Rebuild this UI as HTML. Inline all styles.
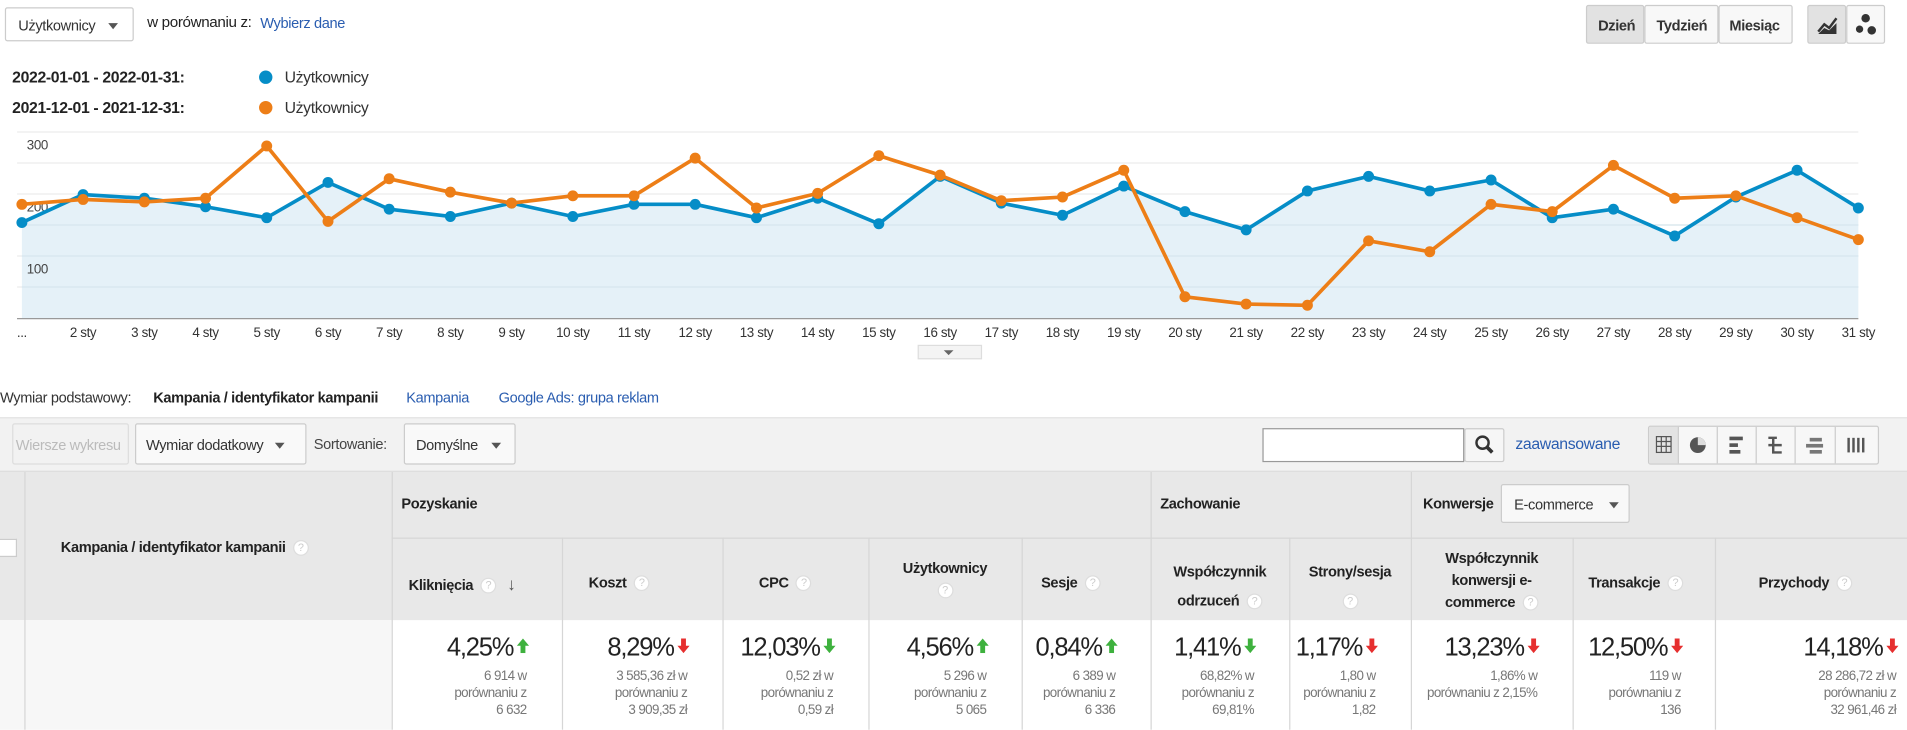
<!DOCTYPE html>
<html><head><meta charset="utf-8"><style>
html,body{margin:0;padding:0;background:#fff;overflow:hidden}
body{width:1907px;height:730px;position:relative}
#w{position:absolute;left:0;top:0;width:1568px;height:600px;transform:scale(1.2162);transform-origin:0 0;font-family:"Liberation Sans",Arial,sans-serif;color:#222;letter-spacing:-0.3px}
.a{position:absolute;white-space:nowrap}
.btn{position:absolute;border:1px solid #ccc;border-radius:2px;background:#f6f6f6;box-sizing:border-box;font-size:12px;color:#333}
.link{color:#2a5db0}
.tri{display:inline-block;width:0;height:0;border-left:4px solid transparent;border-right:4px solid transparent;border-top:5px solid #555;vertical-align:middle}
.q{display:inline-block;width:13px;height:13px;border-radius:50%;background:#fff;border:1px solid #ddd;box-sizing:border-box;font-size:9px;color:#ccc;text-align:center;line-height:11px;font-weight:normal;vertical-align:middle;margin-left:6px}
.hd{position:absolute;font-size:12px;font-weight:bold;color:#222;white-space:nowrap}
.vl{position:absolute;top:388px;width:1px;background:#d6d6d6}
.big{position:absolute;font-size:21px;color:#222;text-align:right;letter-spacing:-1px;white-space:nowrap}
.big svg{vertical-align:middle;margin-left:3px;position:relative;top:-2px}
.sub{position:absolute;font-size:11px;color:#777;text-align:right;line-height:14px;letter-spacing:-0.5px;white-space:nowrap}
</style></head><body><div id="w">

<div class="btn" style="left:4px;top:6px;width:106px;height:28px;background:#fff;padding:7px 0 0 10px">Użytkownicy <span class="tri" style="margin-left:8px"></span></div>
<div class="a" style="left:121px;top:11px;font-size:12.5px">w porównaniu z:</div>
<div class="a link" style="left:214px;top:12px;font-size:12px">Wybierz dane</div>

<div class="btn" style="left:1304px;top:4px;width:48px;height:32px;background:#e2e2e2;font-weight:bold;padding:9px 0 0 9px">Dzień</div>
<div class="btn" style="left:1352px;top:4px;width:61px;height:32px;background:#f8f8f8;font-weight:bold;padding:9px 0 0 9px">Tydzień</div>
<div class="btn" style="left:1413px;top:4px;width:61px;height:32px;background:#f8f8f8;font-weight:bold;padding:9px 0 0 8px">Miesiąc</div>
<div class="btn" style="left:1486px;top:4px;width:32px;height:32px;background:#e2e2e2"><svg width="30" height="30"><path d="M8 21 L13 15 L17 18 L23 10" stroke="#333" stroke-width="2" fill="none"/><path d="M8 23 L13 18 L17 20 L23 14 L23 23 Z" fill="#333"/></svg></div>
<div class="btn" style="left:1518px;top:4px;width:32px;height:32px;background:#f8f8f8"><svg width="30" height="30"><circle cx="15" cy="10" r="3.5" fill="#333"/><circle cx="10" cy="19" r="3" fill="#333"/><circle cx="20" cy="20" r="3.5" fill="#333"/></svg></div>

<div class="a" style="left:10px;top:56px;font-size:13px;font-weight:bold">2022-01-01 - 2022-01-31:</div>
<div class="a" style="left:213px;top:58px;width:11px;height:11px;border-radius:50%;background:#058dc7"></div>
<div class="a" style="left:234px;top:56px;font-size:13px;color:#333">Użytkownicy</div>
<div class="a" style="left:10px;top:81px;font-size:13px;font-weight:bold">2021-12-01 - 2021-12-31:</div>
<div class="a" style="left:213px;top:83px;width:11px;height:11px;border-radius:50%;background:#ed7e17"></div>
<div class="a" style="left:234px;top:81px;font-size:13px;color:#333">Użytkownicy</div>

<svg class="a" style="left:0;top:0" width="1568" height="300">
<g stroke="#ececec" stroke-width="1">
<line x1="14" y1="108.5" x2="1528" y2="108.5"/><line x1="14" y1="134" x2="1528" y2="134"/><line x1="14" y1="159.5" x2="1528" y2="159.5"/><line x1="14" y1="185" x2="1528" y2="185"/><line x1="14" y1="210.5" x2="1528" y2="210.5"/><line x1="14" y1="236" x2="1528" y2="236"/>
</g>
<polygon fill="#e5f1f8" points="18,262 18,183 68.3,160 118.7,163 169,170 219.3,179 269.7,150 320,172 370.3,178 420.6,167 471,178 521.3,168 571.6,168 622,179 672.3,163 722.6,184 773,145 823.3,167 873.6,177 924,153 974.3,174 1024.6,189 1075,157 1125.3,145 1175.6,157 1226,148 1276.3,179 1326.6,172 1377,194 1427.3,162 1477.6,140 1528,171 1528,262"/>
<g stroke="#d8e6ee" stroke-width="1"><line x1="18" y1="185" x2="1528" y2="185"/><line x1="18" y1="210.5" x2="1528" y2="210.5"/><line x1="18" y1="236" x2="1528" y2="236"/></g>
<line x1="14" y1="262" x2="1528" y2="262" stroke="#999" stroke-width="1"/>
<g font-family="Liberation Sans,Arial,sans-serif" font-size="11" fill="#444">
<text x="22" y="123">300</text><text x="22" y="174">200</text><text x="22" y="225">100</text>
</g>
<polyline fill="none" stroke="#058dc7" stroke-width="3" stroke-linejoin="round" points="18,183 68.3,160 118.7,163 169,170 219.3,179 269.7,150 320,172 370.3,178 420.6,167 471,178 521.3,168 571.6,168 622,179 672.3,163 722.6,184 773,145 823.3,167 873.6,177 924,153 974.3,174 1024.6,189 1075,157 1125.3,145 1175.6,157 1226,148 1276.3,179 1326.6,172 1377,194 1427.3,162 1477.6,140 1528,171"/>
<g fill="#058dc7"><circle cx="18" cy="183" r="4.5"/><circle cx="68.3" cy="160" r="4.5"/><circle cx="118.7" cy="163" r="4.5"/><circle cx="169" cy="170" r="4.5"/><circle cx="219.3" cy="179" r="4.5"/><circle cx="269.7" cy="150" r="4.5"/><circle cx="320" cy="172" r="4.5"/><circle cx="370.3" cy="178" r="4.5"/><circle cx="420.6" cy="167" r="4.5"/><circle cx="471" cy="178" r="4.5"/><circle cx="521.3" cy="168" r="4.5"/><circle cx="571.6" cy="168" r="4.5"/><circle cx="622" cy="179" r="4.5"/><circle cx="672.3" cy="163" r="4.5"/><circle cx="722.6" cy="184" r="4.5"/><circle cx="773" cy="145" r="4.5"/><circle cx="823.3" cy="167" r="4.5"/><circle cx="873.6" cy="177" r="4.5"/><circle cx="924" cy="153" r="4.5"/><circle cx="974.3" cy="174" r="4.5"/><circle cx="1024.6" cy="189" r="4.5"/><circle cx="1075" cy="157" r="4.5"/><circle cx="1125.3" cy="145" r="4.5"/><circle cx="1175.6" cy="157" r="4.5"/><circle cx="1226" cy="148" r="4.5"/><circle cx="1276.3" cy="179" r="4.5"/><circle cx="1326.6" cy="172" r="4.5"/><circle cx="1377" cy="194" r="4.5"/><circle cx="1427.3" cy="162" r="4.5"/><circle cx="1477.6" cy="140" r="4.5"/><circle cx="1528" cy="171" r="4.5"/></g>
<polyline fill="none" stroke="#ed7e17" stroke-width="3" stroke-linejoin="round" points="18,168 68.3,164 118.7,166 169,163 219.3,120 269.7,182 320,147 370.3,158 420.6,167 471,161 521.3,161 571.6,130 622,171 672.3,159 722.6,128 773,144 823.3,165 873.6,162 924,140 974.3,244 1024.6,250 1075,251 1125.3,198 1175.6,207 1226,168 1276.3,174 1326.6,136 1377,163 1427.3,161 1477.6,179 1528,197"/>
<g fill="#ed7e17"><circle cx="18" cy="168" r="4.5"/><circle cx="68.3" cy="164" r="4.5"/><circle cx="118.7" cy="166" r="4.5"/><circle cx="169" cy="163" r="4.5"/><circle cx="219.3" cy="120" r="4.5"/><circle cx="269.7" cy="182" r="4.5"/><circle cx="320" cy="147" r="4.5"/><circle cx="370.3" cy="158" r="4.5"/><circle cx="420.6" cy="167" r="4.5"/><circle cx="471" cy="161" r="4.5"/><circle cx="521.3" cy="161" r="4.5"/><circle cx="571.6" cy="130" r="4.5"/><circle cx="622" cy="171" r="4.5"/><circle cx="672.3" cy="159" r="4.5"/><circle cx="722.6" cy="128" r="4.5"/><circle cx="773" cy="144" r="4.5"/><circle cx="823.3" cy="165" r="4.5"/><circle cx="873.6" cy="162" r="4.5"/><circle cx="924" cy="140" r="4.5"/><circle cx="974.3" cy="244" r="4.5"/><circle cx="1024.6" cy="250" r="4.5"/><circle cx="1075" cy="251" r="4.5"/><circle cx="1125.3" cy="198" r="4.5"/><circle cx="1175.6" cy="207" r="4.5"/><circle cx="1226" cy="168" r="4.5"/><circle cx="1276.3" cy="174" r="4.5"/><circle cx="1326.6" cy="136" r="4.5"/><circle cx="1377" cy="163" r="4.5"/><circle cx="1427.3" cy="161" r="4.5"/><circle cx="1477.6" cy="179" r="4.5"/><circle cx="1528" cy="197" r="4.5"/></g>
<g font-family="Liberation Sans,Arial,sans-serif" font-size="11" fill="#333" text-anchor="middle" letter-spacing="-0.3">
<text x="18" y="277">...</text><text x="68.3" y="277">2 sty</text><text x="118.7" y="277">3 sty</text><text x="169" y="277">4 sty</text><text x="219.3" y="277">5 sty</text><text x="269.7" y="277">6 sty</text><text x="320" y="277">7 sty</text><text x="370.3" y="277">8 sty</text><text x="420.6" y="277">9 sty</text><text x="471" y="277">10 sty</text><text x="521.3" y="277">11 sty</text><text x="571.6" y="277">12 sty</text><text x="622" y="277">13 sty</text><text x="672.3" y="277">14 sty</text><text x="722.6" y="277">15 sty</text><text x="773" y="277">16 sty</text><text x="823.3" y="277">17 sty</text><text x="873.6" y="277">18 sty</text><text x="924" y="277">19 sty</text><text x="974.3" y="277">20 sty</text><text x="1024.6" y="277">21 sty</text><text x="1075" y="277">22 sty</text><text x="1125.3" y="277">23 sty</text><text x="1175.6" y="277">24 sty</text><text x="1226" y="277">25 sty</text><text x="1276.3" y="277">26 sty</text><text x="1326.6" y="277">27 sty</text><text x="1377" y="277">28 sty</text><text x="1427.3" y="277">29 sty</text><text x="1477.6" y="277">30 sty</text><text x="1528" y="277">31 sty</text>
</g>
<rect x="755" y="284" width="52" height="11" fill="#f4f4f4" stroke="#ddd"/>
<path d="M776 288 L784 288 L780 292 Z" fill="#666"/>
</svg>

<div class="a" style="left:0;top:320px;font-size:12px;color:#333">Wymiar podstawowy:</div>
<div class="a" style="left:126px;top:320px;font-size:12px;font-weight:bold">Kampania / identyfikator kampanii</div>
<div class="a link" style="left:334px;top:320px;font-size:12px">Kampania</div>
<div class="a link" style="left:410px;top:320px;font-size:12px">Google Ads: grupa reklam</div>

<div class="a" style="left:0;top:343px;width:1568px;height:43px;background:#f2f2f2;border-top:1px solid #e3e3e3;border-bottom:2px solid #ddd"></div>
<div class="btn" style="left:10px;top:348px;width:96px;height:34px;color:#bbb;background:#f2f2f2;padding:10px 0 0 2px;border-color:#ddd;overflow:hidden;white-space:nowrap">Wiersze wykresu</div>
<div class="btn" style="left:111px;top:348px;width:141px;height:34px;background:#f9f9f9;padding:10px 0 0 8px">Wymiar dodatkowy <span class="tri" style="margin-left:6px"></span></div>
<div class="a" style="left:258px;top:358px;font-size:12px;color:#444">Sortowanie:</div>
<div class="btn" style="left:332px;top:348px;width:92px;height:34px;background:#f9f9f9;padding:10px 0 0 9px">Domyślne <span class="tri" style="margin-left:8px"></span></div>
<div class="a" style="left:1038px;top:352px;width:166px;height:28px;background:#fff;border:1px solid #999;box-sizing:border-box"></div>
<div class="btn" style="left:1204px;top:352px;width:33px;height:28px;background:#f6f6f6"><svg width="31" height="26"><circle cx="14" cy="11" r="5" stroke="#333" stroke-width="2" fill="none"/><line x1="17.5" y1="14.5" x2="22" y2="19" stroke="#333" stroke-width="3"/></svg></div>
<div class="a link" style="left:1246px;top:357px;font-size:13px">zaawansowane</div>
<div class="btn" style="left:1355px;top:350px;width:190px;height:32px;background:#f7f7f7"></div>
<div class="a" style="left:1356px;top:351px;width:24px;height:30px;background:#e3e3e3"></div>
<svg class="a" style="left:1355px;top:350px" width="190" height="32"><g stroke="#ccc"><line x1="25" y1="1" x2="25" y2="31"/><line x1="57" y1="1" x2="57" y2="31"/><line x1="89" y1="1" x2="89" y2="31"/><line x1="121" y1="1" x2="121" y2="31"/><line x1="154" y1="1" x2="154" y2="31"/></g>
<g stroke="#555" fill="none"><rect x="7" y="9" width="12" height="13"/><line x1="11" y1="9" x2="11" y2="22"/><line x1="15" y1="9" x2="15" y2="22"/><line x1="7" y1="13" x2="19" y2="13"/><line x1="7" y1="17" x2="19" y2="17"/></g>
<circle cx="41" cy="16" r="6.5" fill="#555"/><path d="M41 9.5 A6.5 6.5 0 0 1 47.5 16 L41 16Z" fill="#ddd"/>
<g fill="#555"><rect x="67" y="9" width="11" height="3"/><rect x="67" y="14.5" width="7" height="3"/><rect x="67" y="20" width="9" height="3"/></g>
<path d="M99 10 L106 10 M103 10 L103 22 L110 22 M99 16 L110 16" stroke="#555" stroke-width="2" fill="none"/>
<g fill="#777"><rect x="133" y="10" width="10" height="3"/><rect x="130" y="15" width="14" height="3"/><rect x="133" y="20" width="10" height="3"/></g>
<g fill="#555"><rect x="164" y="10" width="2" height="12"/><rect x="168" y="10" width="2" height="12"/><rect x="172" y="10" width="2" height="12"/><rect x="176" y="10" width="2" height="12"/></g>
</svg>

<div class="a" style="left:0;top:388px;width:1568px;height:122px;background:#e8e8e8"></div>
<div class="a" style="left:322px;top:442px;width:1246px;height:1px;background:#d6d6d6"></div>
<div class="a" style="left:0;top:510px;width:1568px;height:90px;background:#fff"></div>
<div class="a" style="left:0;top:510px;width:322px;height:90px;background:#f7f7f7"></div>
<div class="vl" style="left:20px;height:212px"></div>
<div class="vl" style="left:322px;height:212px"></div>
<div class="vl" style="left:462px;top:442px;height:158px"></div>
<div class="vl" style="left:594px;top:442px;height:158px"></div>
<div class="vl" style="left:714px;top:442px;height:158px"></div>
<div class="vl" style="left:840px;top:442px;height:158px"></div>
<div class="vl" style="left:946px;height:212px"></div>
<div class="vl" style="left:1060px;top:442px;height:158px"></div>
<div class="vl" style="left:1160px;height:212px"></div>
<div class="vl" style="left:1293px;top:442px;height:158px"></div>
<div class="vl" style="left:1410px;top:442px;height:158px"></div>
<div class="a" style="left:0;top:443px;width:13px;height:13px;border:1px solid #ccc;background:#fff;border-left:none"></div>

<div class="hd" style="left:50px;top:443px">Kampania / identyfikator kampanii<span class="q">?</span></div>
<div class="hd" style="left:330px;top:407px">Pozyskanie</div>
<div class="hd" style="left:954px;top:407px">Zachowanie</div>
<div class="hd" style="left:1170px;top:407px">Konwersje</div>
<div class="btn" style="left:1234px;top:398px;width:106px;height:32px;background:#f8f8f8;padding:9px 0 0 10px;font-size:12px">E-commerce <span class="tri" style="margin-left:10px"></span></div>

<div class="hd" style="left:336px;top:472px">Kliknięcia<span class="q">?</span> <span style="color:#555;font-size:14px;margin-left:6px">↓</span></div>
<div class="hd" style="left:484px;top:472px">Koszt<span class="q">?</span></div>
<div class="hd" style="left:624px;top:472px">CPC<span class="q">?</span></div>
<div class="hd" style="left:714px;width:126px;top:458px;text-align:center;line-height:18px">Użytkownicy<br><span class="q" style="margin:0">?</span></div>
<div class="hd" style="left:856px;top:472px">Sesje<span class="q">?</span></div>
<div class="hd" style="left:946px;width:114px;top:458px;text-align:center;line-height:24px">Współczynnik<br>odrzuceń<span class="q">?</span></div>
<div class="hd" style="left:1060px;width:100px;top:458px;text-align:center;line-height:24px">Strony/sesja<br><span class="q" style="margin:0">?</span></div>
<div class="hd" style="left:1160px;width:133px;top:450px;text-align:center;line-height:18px">Współczynnik<br>konwersji e-<br>commerce<span class="q">?</span></div>
<div class="hd" style="left:1306px;top:472px">Transakcje<span class="q">?</span></div>
<div class="hd" style="left:1446px;top:472px">Przychody<span class="q">?</span></div>

<div class="big" style="right:1133px;top:521px">4,25%<svg width="10" height="12"><path d="M5 0 L10 6 L7 6 L7 12 L3 12 L3 6 L0 6Z" fill="#3eb13e"/></svg></div>
<div class="sub" style="right:1135px;top:549px">6 914 w<br>porównaniu z<br>6 632</div>
<div class="big" style="right:1001px;top:521px">8,29%<svg width="10" height="12"><path d="M5 12 L10 6 L7 6 L7 0 L3 0 L3 6 L0 6Z" fill="#e62f2f"/></svg></div>
<div class="sub" style="right:1003px;top:549px">3 585,36 zł w<br>porównaniu z<br>3 909,35 zł</div>
<div class="big" style="right:881px;top:521px">12,03%<svg width="10" height="12"><path d="M5 12 L10 6 L7 6 L7 0 L3 0 L3 6 L0 6Z" fill="#3eb13e"/></svg></div>
<div class="sub" style="right:883px;top:549px">0,52 zł w<br>porównaniu z<br>0,59 zł</div>
<div class="big" style="right:755px;top:521px">4,56%<svg width="10" height="12"><path d="M5 0 L10 6 L7 6 L7 12 L3 12 L3 6 L0 6Z" fill="#3eb13e"/></svg></div>
<div class="sub" style="right:757px;top:549px">5 296 w<br>porównaniu z<br>5 065</div>
<div class="big" style="right:649px;top:521px">0,84%<svg width="10" height="12"><path d="M5 0 L10 6 L7 6 L7 12 L3 12 L3 6 L0 6Z" fill="#3eb13e"/></svg></div>
<div class="sub" style="right:651px;top:549px">6 389 w<br>porównaniu z<br>6 336</div>
<div class="big" style="right:535px;top:521px">1,41%<svg width="10" height="12"><path d="M5 12 L10 6 L7 6 L7 0 L3 0 L3 6 L0 6Z" fill="#3eb13e"/></svg></div>
<div class="sub" style="right:537px;top:549px">68,82% w<br>porównaniu z<br>69,81%</div>
<div class="big" style="right:435px;top:521px">1,17%<svg width="10" height="12"><path d="M5 12 L10 6 L7 6 L7 0 L3 0 L3 6 L0 6Z" fill="#e62f2f"/></svg></div>
<div class="sub" style="right:437px;top:549px">1,80 w<br>porównaniu z<br>1,82</div>
<div class="big" style="right:302px;top:521px">13,23%<svg width="10" height="12"><path d="M5 12 L10 6 L7 6 L7 0 L3 0 L3 6 L0 6Z" fill="#e62f2f"/></svg></div>
<div class="sub" style="right:304px;top:549px">1,86% w<br>porównaniu z 2,15%</div>
<div class="big" style="right:184px;top:521px">12,50%<svg width="10" height="12"><path d="M5 12 L10 6 L7 6 L7 0 L3 0 L3 6 L0 6Z" fill="#e62f2f"/></svg></div>
<div class="sub" style="right:186px;top:549px">119 w<br>porównaniu z<br>136</div>
<div class="big" style="right:7px;top:521px">14,18%<svg width="10" height="12"><path d="M5 12 L10 6 L7 6 L7 0 L3 0 L3 6 L0 6Z" fill="#e62f2f"/></svg></div>
<div class="sub" style="right:9px;top:549px">28 286,72 zł w<br>porównaniu z<br>32 961,46 zł</div>

</div></body></html>
